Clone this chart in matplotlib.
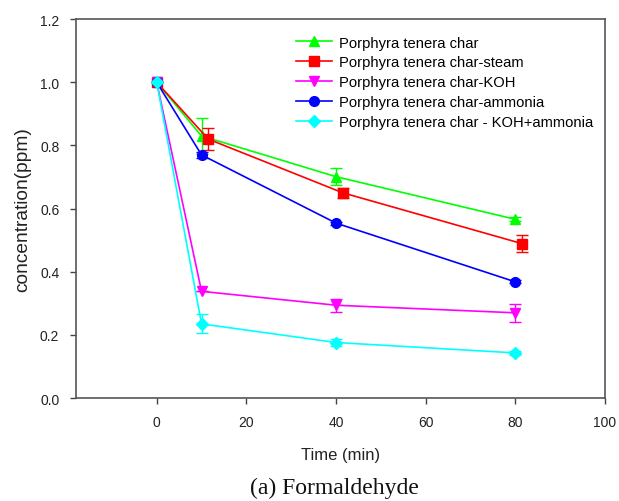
import matplotlib
matplotlib.use("Agg")
import matplotlib.pyplot as plt
from matplotlib.lines import Line2D

plt.rcParams['font.family'] = ['Liberation Sans', 'DejaVu Sans']

# Data
time = [0, 10, 40, 80]
time_steam = [0, 11.5, 41.5, 81.5]  # steam series is drawn slightly offset

labels = ["Porphyra tenera char",
          "Porphyra tenera char-steam",
          "Porphyra tenera char-KOH",
          "Porphyra tenera char-ammonia",
          "Porphyra tenera char - KOH+ammonia"]

char_y = [1.0, 0.830, 0.701, 0.566]
char_err = [0.0, 0.058, 0.027, 0.006]
steam_y = [1.0, 0.820, 0.650, 0.489]
steam_err = [0.0, 0.034, 0.015, 0.027]
koh_y = [1.0, 0.338, 0.294, 0.270]
koh_err = [0.0, 0.0, 0.020, 0.028]
ammonia_y = [1.0, 0.770, 0.554, 0.368]
ammonia_err = [0.0, 0.010, 0.005, 0.005]
kohamm_y = [1.0, 0.235, 0.176, 0.143]
kohamm_err = [0.0, 0.030, 0.010, 0.005]

series = [
    (time, char_y, char_err, '#00ff00', '^'),
    (time_steam, steam_y, steam_err, '#ff0000', 's'),
    (time, koh_y, koh_err, '#ff00ff', 'v'),
    (time, ammonia_y, ammonia_err, '#0000ff', 'o'),
    (time, kohamm_y, kohamm_err, '#00ffff', 'D'),
]

fig = plt.figure(figsize=(6.19, 5.02), dpi=100)
ax = fig.add_axes([0.1228, 0.205, 0.8546, 0.755])

handles = []
for (x, y, err, col, mk), lab in zip(series, labels):
    ms = 6 if mk == 'D' else 7
    ax.errorbar(x, y, yerr=err, color=col, marker=mk, markersize=ms,
                linewidth=1.2, elinewidth=1.0, capsize=4.5, capthick=1.0,
                markeredgecolor=col)
    handles.append(Line2D([], [], color=col, marker=mk, markersize=ms,
                          linewidth=1.2, label=lab))

ax.set_xlim(-18, 100)
ax.set_ylim(0, 1.2)
ax.set_xticks([0, 20, 40, 60, 80, 100])
ax.set_yticks([0.0, 0.2, 0.4, 0.6, 0.8, 1.0, 1.2])
ax.set_yticklabels(['0.0', '0.2', '0.4', '0.6', '0.8', '1.0', '1.2'])
ax.tick_params(direction='out', length=4, width=1, colors='#444444',
               labelcolor='#222222', labelsize=10, pad=8)
for sp in ax.spines.values():
    sp.set_color('#555555')
    sp.set_linewidth(1.2)

ax.set_xlabel("Time (min)", fontsize=12, color='#222222', labelpad=13)
ax.set_ylabel("concentration(ppm)", fontsize=13.8, color='#222222', labelpad=6)

ax.legend(handles=handles, loc='upper left', bbox_to_anchor=(0.404, 0.972),
          frameon=False, fontsize=10.6, handlelength=2.45, labelspacing=0.40,
          handletextpad=0.48, borderaxespad=0)

fig.text(0.541, 8 / 502, "(a) Formaldehyde", fontsize=17, ha='center',
         va='baseline', family=['Liberation Serif', 'DejaVu Serif'],
         color='#111111')

fig.savefig("out.png", dpi=100)
